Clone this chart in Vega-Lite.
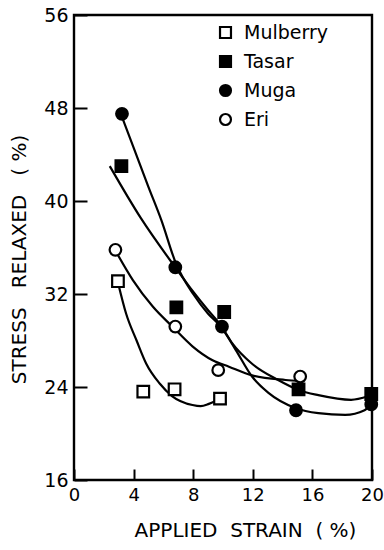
{
  "$schema": "https://vega.github.io/schema/vega-lite/v6.json",
  "autosize": {"type": "none"},
  "padding": {"left": 74, "top": 15, "right": 12, "bottom": 70},
  "width": 298,
  "height": 465,
  "background": "white",
  "config": {
    "font": "DejaVu Sans",
    "view": {"stroke": "black", "strokeWidth": 2.4},
    "axis": {
      "grid": false,
      "domain": false,
      "tickColor": "black",
      "tickWidth": 2,
      "labelColor": "black",
      "titleColor": "black",
      "labelFont": "DejaVu Sans",
      "titleFont": "DejaVu Sans",
      "labelFontSize": 19,
      "titleFontSize": 20,
      "titleFontWeight": "normal",
      "labelFlush": false
    },
    "legend": {
      "labelFont": "DejaVu Sans",
      "labelFontSize": 19,
      "labelColor": "black"
    }
  },
  "datasets": {
    "points": [
      {"series": "Mulberry", "x": 2.95, "y": 33.1},
      {"series": "Mulberry", "x": 4.65, "y": 23.6},
      {"series": "Mulberry", "x": 6.75, "y": 23.8},
      {"series": "Mulberry", "x": 9.8, "y": 23.0},
      {"series": "Tasar", "x": 3.18, "y": 43.0},
      {"series": "Tasar", "x": 6.87, "y": 30.85},
      {"series": "Tasar", "x": 10.08, "y": 30.45},
      {"series": "Tasar", "x": 15.07, "y": 23.8},
      {"series": "Tasar", "x": 19.95, "y": 23.4},
      {"series": "Muga", "x": 3.22, "y": 47.5},
      {"series": "Muga", "x": 6.8, "y": 34.3},
      {"series": "Muga", "x": 9.93, "y": 29.2},
      {"series": "Muga", "x": 14.9, "y": 22.0},
      {"series": "Muga", "x": 19.95, "y": 22.5},
      {"series": "Eri", "x": 2.78, "y": 35.8},
      {"series": "Eri", "x": 6.8, "y": 29.2},
      {"series": "Eri", "x": 9.68, "y": 25.45},
      {"series": "Eri", "x": 15.18, "y": 24.9}
    ],
    "curves": [
      {"series": "Mulberry", "x": 2.95, "y": 33.0},
      {"series": "Mulberry", "x": 3.5, "y": 30.3},
      {"series": "Mulberry", "x": 4.2, "y": 28.0},
      {"series": "Mulberry", "x": 4.85, "y": 26.0},
      {"series": "Mulberry", "x": 5.75, "y": 24.3},
      {"series": "Mulberry", "x": 6.6, "y": 23.2},
      {"series": "Mulberry", "x": 7.95, "y": 22.45},
      {"series": "Mulberry", "x": 8.5, "y": 22.35},
      {"series": "Mulberry", "x": 9.05, "y": 22.55},
      {"series": "Mulberry", "x": 9.5, "y": 22.8},
      {"series": "Eri", "x": 2.75, "y": 35.8},
      {"series": "Eri", "x": 3.95, "y": 33.2},
      {"series": "Eri", "x": 5.3, "y": 30.9},
      {"series": "Eri", "x": 6.6, "y": 29.2},
      {"series": "Eri", "x": 7.95, "y": 27.5},
      {"series": "Eri", "x": 9.3, "y": 26.3},
      {"series": "Eri", "x": 10.4, "y": 25.75},
      {"series": "Eri", "x": 11.95, "y": 25.0},
      {"series": "Eri", "x": 14.2, "y": 24.6},
      {"series": "Eri", "x": 15.2, "y": 24.5},
      {"series": "Tasar", "x": 2.4, "y": 43.0},
      {"series": "Tasar", "x": 4.5, "y": 38.5},
      {"series": "Tasar", "x": 6.85, "y": 34.2},
      {"series": "Tasar", "x": 8.0, "y": 32.2},
      {"series": "Tasar", "x": 9.0, "y": 30.6},
      {"series": "Tasar", "x": 9.8, "y": 29.4},
      {"series": "Tasar", "x": 10.6, "y": 27.8},
      {"series": "Tasar", "x": 11.95, "y": 26.0},
      {"series": "Tasar", "x": 13.7, "y": 24.6},
      {"series": "Tasar", "x": 15.05, "y": 23.75},
      {"series": "Tasar", "x": 16.4, "y": 23.3},
      {"series": "Tasar", "x": 18.6, "y": 22.9},
      {"series": "Tasar", "x": 19.75, "y": 23.2},
      {"series": "Muga", "x": 3.2, "y": 47.3},
      {"series": "Muga", "x": 4.0, "y": 44.6},
      {"series": "Muga", "x": 5.0, "y": 41.2},
      {"series": "Muga", "x": 5.85, "y": 38.4},
      {"series": "Muga", "x": 6.85, "y": 34.6},
      {"series": "Muga", "x": 8.0, "y": 32.0},
      {"series": "Muga", "x": 9.0, "y": 30.3},
      {"series": "Muga", "x": 9.85, "y": 29.2},
      {"series": "Muga", "x": 10.85, "y": 27.2},
      {"series": "Muga", "x": 11.95, "y": 24.9},
      {"series": "Muga", "x": 13.05, "y": 23.5},
      {"series": "Muga", "x": 14.85, "y": 22.2},
      {"series": "Muga", "x": 16.4, "y": 21.75},
      {"series": "Muga", "x": 18.2, "y": 21.6},
      {"series": "Muga", "x": 19.5, "y": 22.0},
      {"series": "Muga", "x": 19.9, "y": 22.6}
    ]
  },
  "layer": [
    {
      "data": {"name": "curves"},
      "mark": {"type": "line", "interpolate": "monotone", "color": "black", "strokeWidth": 2.2},
      "encoding": {
        "x": {"field": "x", "type": "quantitative"},
        "y": {"field": "y", "type": "quantitative"},
        "detail": {"field": "series", "type": "nominal"},
        "order": {"field": "x", "type": "quantitative"}
      }
    },
    {
      "data": {"name": "points"},
      "mark": {"type": "point", "filled": true, "strokeWidth": 2.2, "size": 135, "opacity": 1},
      "encoding": {
        "x": {
          "field": "x", "type": "quantitative",
          "scale": {"domain": [0, 20], "nice": false, "zero": false},
          "axis": {"values": [0, 4, 8, 12, 16, 20], "tickSize": -11, "labelPadding": 17, "labelFontSize": 18, "title": "APPLIED\u00a0\u00a0STRAIN\u00a0\u00a0(\u00a0%)", "titlePadding": 16, "titleX": 171}
        },
        "y": {
          "field": "y", "type": "quantitative",
          "scale": {"domain": [16, 56], "nice": false, "zero": false},
          "axis": {"values": [16, 24, 32, 40, 48, 56], "tickSize": -13, "labelPadding": 19, "title": "STRESS\u00a0\u00a0\u00a0RELAXED\u00a0\u00a0\u00a0(\u00a0%)", "titlePadding": 14, "titleY": 244}
        },
        "fill": {
          "field": "series", "type": "nominal",
          "scale": {"domain": ["Mulberry", "Tasar", "Muga", "Eri"], "range": ["white", "black", "black", "white"]},
          "legend": {"title": null, "orient": "none", "legendX": 142, "legendY": 8, "padding": 0, "symbolSize": 120, "symbolStrokeWidth": 2.2, "rowPadding": 8, "labelOffset": 9}
        },
        "stroke": {
          "field": "series", "type": "nominal",
          "scale": {"domain": ["Mulberry", "Tasar", "Muga", "Eri"], "range": ["black", "black", "black", "black"]},
          "legend": {"title": null, "orient": "none", "legendX": 142, "legendY": 8, "padding": 0, "symbolSize": 120, "symbolStrokeWidth": 2.2, "rowPadding": 8, "labelOffset": 9}
        },
        "shape": {
          "field": "series", "type": "nominal",
          "scale": {"domain": ["Mulberry", "Tasar", "Muga", "Eri"], "range": ["square", "square", "circle", "circle"]},
          "legend": {"title": null, "orient": "none", "legendX": 142, "legendY": 8, "padding": 0, "symbolSize": 120, "symbolStrokeWidth": 2.2, "rowPadding": 8, "labelOffset": 9}
        }
      }
    }
  ]
}
